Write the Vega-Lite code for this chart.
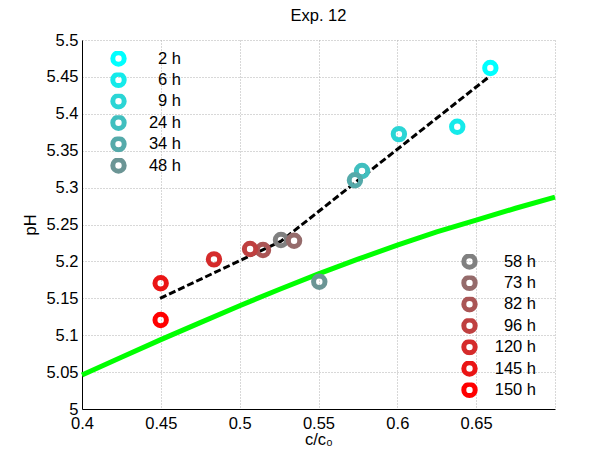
{
  "$schema": "https://vega.github.io/schema/vega-lite/v6.json",
  "width": 473,
  "height": 369,
  "autosize": {"type": "none"},
  "padding": {"left": 82, "top": 40, "right": 50, "bottom": 46},
  "background": "white",
  "title": {"text": "Exp. 12", "fontSize": 16.5, "font": "Liberation Sans", "fontWeight": "normal", "color": "black", "offset": 8},
  "config": {
    "view": {"stroke": null},
    "axis": {
      "labelFont": "Liberation Sans", "labelFontSize": 16.5, "labelColor": "black",
      "titleFont": "Liberation Sans", "titleFontSize": 16.5, "titleFontWeight": "normal", "titleColor": "black",
      "domainColor": "black", "domainWidth": 1, "ticks": false, "grid": true,
      "gridColor": "#b0b0b0", "gridDash": [1, 2], "gridWidth": 1,
      "labelOverlap": false, "labelFlush": false
    },
    "legend": {
      "labelFont": "Liberation Sans", "labelFontSize": 16.5, "labelColor": "black",
      "orient": "none", "padding": 0, "symbolType": "circle", "symbolSize": 130,
      "symbolStrokeWidth": 5, "symbolOpacity": 1, "labelAlign": "right",
      "clipHeight": 15, "rowPadding": 4.4
    }
  },
  "datasets": {
    "points": [
      {"time": "2 h", "c": 0.659, "pH": 5.462},
      {"time": "6 h", "c": 0.638, "pH": 5.3825},
      {"time": "9 h", "c": 0.601, "pH": 5.3725},
      {"time": "24 h", "c": 0.5776, "pH": 5.3225},
      {"time": "34 h", "c": 0.5731, "pH": 5.31},
      {"time": "48 h", "c": 0.5505, "pH": 5.1725},
      {"time": "58 h", "c": 0.5262, "pH": 5.229},
      {"time": "73 h", "c": 0.5345, "pH": 5.228},
      {"time": "82 h", "c": 0.5148, "pH": 5.2155},
      {"time": "96 h", "c": 0.5066, "pH": 5.2168},
      {"time": "120 h", "c": 0.4837, "pH": 5.2028},
      {"time": "145 h", "c": 0.4499, "pH": 5.1703},
      {"time": "150 h", "c": 0.4499, "pH": 5.1206}
    ],
    "fit": [
      {"c": 0.4495, "pH": 5.15},
      {"c": 0.526, "pH": 5.227},
      {"c": 0.6575, "pH": 5.449}
    ],
    "model": [
      {"c": 0.4, "pH": 5.046},
      {"c": 0.425, "pH": 5.07},
      {"c": 0.45, "pH": 5.094},
      {"c": 0.475, "pH": 5.117},
      {"c": 0.5, "pH": 5.14},
      {"c": 0.525, "pH": 5.162},
      {"c": 0.55, "pH": 5.183},
      {"c": 0.575, "pH": 5.203},
      {"c": 0.6, "pH": 5.222},
      {"c": 0.625, "pH": 5.24},
      {"c": 0.65, "pH": 5.256},
      {"c": 0.675, "pH": 5.272},
      {"c": 0.7, "pH": 5.287}
    ]
  },
  "layer": [
    {
      "data": {"name": "model"},
      "mark": {"type": "line", "color": "#00ff00", "strokeWidth": 5},
      "encoding": {
        "x": {
          "field": "c", "type": "quantitative",
          "scale": {"domain": [0.4, 0.7], "nice": false, "zero": false},
          "axis": {
            "values": [0.4, 0.45, 0.5, 0.55, 0.6, 0.65, 0.7],
            "tickCount": 20,
            "format": "~g",
            "labelExpr": "datum.value > 0.69 ? '' : datum.label",
            "title": "c/c₀", "titlePadding": 0, "labelPadding": 6
          }
        },
        "y": {
          "field": "pH", "type": "quantitative",
          "scale": {"domain": [5, 5.5], "nice": false, "zero": false},
          "axis": {
            "values": [5, 5.05, 5.1, 5.15, 5.2, 5.25, 5.3, 5.35, 5.4, 5.45, 5.5],
            "tickCount": 20,
            "format": "~g",
            "title": "pH", "titlePadding": 7, "labelPadding": 4
          }
        }
      }
    },
    {
      "data": {"name": "fit"},
      "mark": {"type": "line", "color": "black", "strokeWidth": 3, "strokeDash": [7, 3]},
      "encoding": {
        "x": {"field": "c", "type": "quantitative"},
        "y": {"field": "pH", "type": "quantitative"}
      }
    },
    {
      "data": {"name": "points"},
      "transform": [{"filter": {"field": "time", "oneOf": ["2 h", "6 h", "9 h", "24 h", "34 h", "48 h"]}}],
      "mark": {"type": "point", "filled": false, "size": 130, "strokeWidth": 5, "opacity": 1},
      "encoding": {
        "x": {"field": "c", "type": "quantitative"},
        "y": {"field": "pH", "type": "quantitative"},
        "color": {
          "field": "time", "type": "nominal",
          "scale": {
            "domain": ["2 h", "6 h", "9 h", "24 h", "34 h", "48 h"],
            "range": ["#00ffff", "#15eaea", "#2bd5d5", "#40bfbf", "#55aaaa", "#6b9595"]
          },
          "legend": {"title": null, "legendX": 28, "legendY": 11, "labelOffset": 54}
        }
      }
    },
    {
      "data": {"name": "points"},
      "transform": [{"filter": {"field": "time", "oneOf": ["58 h", "73 h", "82 h", "96 h", "120 h", "145 h", "150 h"]}}],
      "mark": {"type": "point", "filled": false, "size": 130, "strokeWidth": 5, "opacity": 1},
      "encoding": {
        "x": {"field": "c", "type": "quantitative"},
        "y": {"field": "pH", "type": "quantitative"},
        "stroke": {
          "field": "time", "type": "nominal",
          "scale": {
            "domain": ["58 h", "73 h", "82 h", "96 h", "120 h", "145 h", "150 h"],
            "range": ["#808080", "#956b6b", "#aa5555", "#bf4040", "#d52b2b", "#ea1515", "#ff0000"]
          },
          "legend": {"title": null, "legendX": 379, "legendY": 214, "labelOffset": 58}
        }
      }
    }
  ]
}
